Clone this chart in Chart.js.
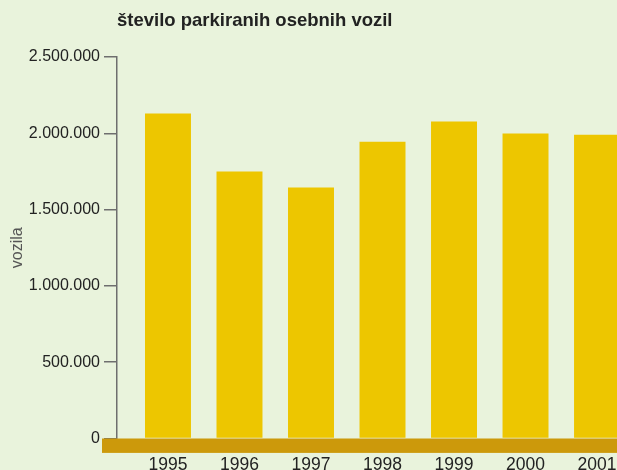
<!DOCTYPE html>
<html>
<head>
<meta charset="utf-8">
<script src="https://cdn.jsdelivr.net/npm/chart.js@4"></script>
<style>
  html, body { margin: 0; padding: 0; background: #e9f3dc; overflow: hidden; }
  #wrap { width: 617px; height: 470px; overflow: hidden; }
  canvas { display: block; }
</style>
</head>
<body>
<div id="wrap"><canvas id="chart" width="700" height="470" style="width:700px;height:470px"></canvas></div>
<script>
// podatki
const years = [1995, 1996, 1997, 1998, 1999, 2000, 2001];
const vehicles = [2130000, 1750000, 1645000, 1945000, 2078000, 1998000, 1991000];
const yTicks = [0, 500000, 1000000, 1500000, 2000000, 2500000];
const chartTitle = 'število parkiranih osebnih vozil';
const yTitle = 'vozila';

const fontFamily = '"Liberation Sans", Arial, Helvetica, sans-serif';

function formatNumber(v) {
    return String(v).replace(/\B(?=(\d{3})+(?!\d))/g, '.');
}

// temni pas pod stolpci
const bandPlugin = {
    id: 'band',
    afterDatasetsDraw(chart) {
        const { ctx, chartArea, scales } = chart;
        const y0 = scales.y.getPixelForValue(0);
        ctx.save();
        ctx.fillStyle = '#cc990b';
        ctx.fillRect(chartArea.left - 15, y0, chart.width, 14.4);
        ctx.restore();
    }
};

// naslov
const titlePlugin = {
    id: 'titleText',
    afterDraw(chart) {
        const ctx = chart.ctx;
        ctx.save();
        ctx.font = 'bold 18.5px ' + fontFamily;
        ctx.fillStyle = '#222222';
        ctx.textBaseline = 'alphabetic';
        ctx.textAlign = 'left';
        ctx.fillText(chartTitle, 117, 26);
        ctx.restore();
    }
};

const ctx = document.getElementById('chart').getContext('2d');

new Chart(ctx, {
    type: 'bar',
    data: {
        datasets: [{
            label: chartTitle,
            data: years.map((yr, i) => ({ x: yr, y: vehicles[i] })),
            backgroundColor: '#edc600',
            borderWidth: 0,
            categoryPercentage: 1,
            barPercentage: 0.643
        }]
    },
    options: {
        responsive: false,
        animation: false,
        layout: { padding: { top: 57, left: 0, right: 0, bottom: 0 } },
        plugins: {
            legend: { display: false },
            tooltip: { enabled: false }
        },
        scales: {
            x: {
                type: 'linear',
                offset: false,
                min: 1994.287,
                max: 2002.44,
                afterBuildTicks: scale => {
                    scale.ticks = years.map(v => ({ value: v }));
                },
                afterFit: scale => { scale.height = 31.5; },
                grid: { display: false, offset: false },
                border: { display: false },
                ticks: {
                    autoSkip: false,
                    maxRotation: 0,
                    padding: 8.5,
                    color: '#222222',
                    font: { family: fontFamily, size: 17.5 },
                    callback: v => String(v)
                }
            },
            y: {
                min: 0,
                max: 2500000,
                afterBuildTicks: scale => {
                    scale.ticks = yTicks.map(v => ({ value: v }));
                },
                afterFit: scale => { scale.width = 117; },
                border: { display: true, color: '#6e6e6e', width: 1.5 },
                grid: {
                    drawOnChartArea: false,
                    drawTicks: true,
                    tickLength: 13,
                    color: '#6e6e6e',
                    lineWidth: 1.5
                },
                ticks: {
                    padding: 4,
                    color: '#222222',
                    font: { family: fontFamily, size: 16 },
                    callback: v => formatNumber(v)
                },
                title: {
                    display: true,
                    text: yTitle,
                    color: '#555555',
                    padding: { top: 8, bottom: 0 },
                    font: { family: fontFamily, size: 16 }
                }
            }
        }
    },
    plugins: [bandPlugin, titlePlugin]
});
</script>
</body>
</html>
